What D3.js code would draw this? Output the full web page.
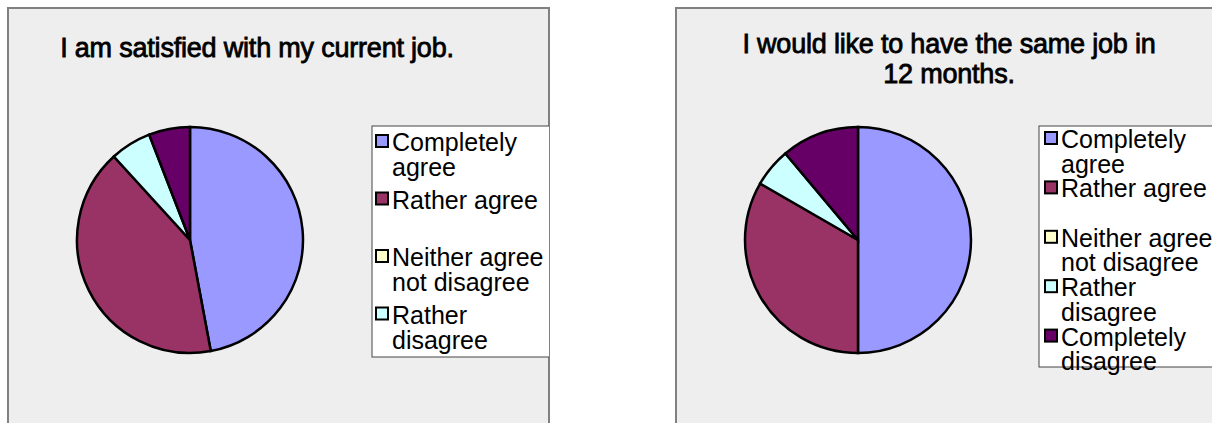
<!DOCTYPE html>
<html lang="en">
<meta charset="utf-8">
<style type="text/css">
  body { margin: 0; background: #fff; }
  svg { display: block; }
  .panel { fill: #eeeeee; stroke: #808080; stroke-width: 2px; }
  .title { font-family: "Liberation Sans", Arial, sans-serif; font-size: 27px; letter-spacing: -0.2px; fill: #000; stroke: #000; stroke-width: 0.8px; }
  .slice { stroke: #000; stroke-width: 2.5px; }
  .legend-box { fill: #fff; stroke: #444; stroke-width: 1px; }
  .legend-text { font-family: "Liberation Sans", Arial, sans-serif; font-size: 25px; fill: #000; }
  .swatch { stroke: #000; stroke-width: 2px; }
</style>
<body>
<script src="https://d3js.org/d3.v7.min.js"></script>
<script>
// answer categories, in the order Excel plots them
var categories = ["Completely agree", "Rather agree", "Neither agree not disagree", "Rather disagree", "Completely disagree"];
var legendLines = [["Completely", "agree"], ["Rather agree"], ["Neither agree", "not disagree"], ["Rather", "disagree"], ["Completely", "disagree"]];
var sliceColors = ["#9999ff", "#993366", "#ffffcc", "#ccffff", "#660066"];

// answers counted per category
var satisfiedValues = [8, 7, 0, 1, 1];
var sameJobValues = [9, 6, 0, 1, 2];

var satisfiedTitle = ["I am satisfied with my current job."];
var sameJobTitle = ["I would like to have the same job in", "12 months."];

var width = 1212, height = 423;

var svg = d3.select("body").append("svg")
    .attr("width", width)
    .attr("height", height);

var color = d3.scaleOrdinal().domain(categories).range(sliceColors);

var charts = [
  { id: "satisfied", values: satisfiedValues, title: satisfiedTitle,
    panel: {x: 8, y: 8, w: 541, h: 430},
    titleX: 257, titleY: 57, titleStep: 30,
    cx: 190, cy: 240, r: 113,
    legend: {x: 372, y: 126, w: 200, h: 231, sw: 4, tx: 20, first: 151, slot: 57.5, lh: 25} },
  { id: "samejob", values: sameJobValues, title: sameJobTitle,
    panel: {x: 676, y: 8, w: 560, h: 430},
    titleX: 949, titleY: 53, titleStep: 30,
    cx: 858, cy: 240, r: 113,
    legend: {x: 1039, y: 126, w: 200, h: 241, sw: 6, tx: 22, first: 148, slot: 49.4, lh: 24.7} }
];

var pie = d3.pie().sort(null).value(function (d) { return d.value; });

charts.forEach(function (c) {
    var data = categories.map(function (k, i) { return {key: k, value: c.values[i], lines: legendLines[i]}; });

    svg.append("clipPath").attr("id", "clip-" + c.id)
      .append("rect")
        .attr("x", c.panel.x).attr("y", c.panel.y)
        .attr("width", c.panel.w).attr("height", c.panel.h);

    var g = svg.append("g");

    g.append("rect")
        .attr("class", "panel")
        .attr("x", c.panel.x).attr("y", c.panel.y)
        .attr("width", c.panel.w).attr("height", c.panel.h);

    g.selectAll(".title-line." + c.id)
        .data(c.title)
      .enter().append("text")
        .attr("class", "title")
        .attr("text-anchor", "middle")
        .attr("x", c.titleX)
        .attr("y", function (d, i) { return c.titleY + i * c.titleStep; })
        .text(function (d) { return d; });

    var arc = d3.arc().innerRadius(0).outerRadius(c.r);

    g.append("g")
        .attr("transform", "translate(" + c.cx + "," + c.cy + ")")
      .selectAll("path")
        .data(pie(data).filter(function (d) { return d.data.value > 0; }))
      .enter().append("path")
        .attr("class", "slice")
        .attr("d", arc)
        .attr("fill", function (d) { return color(d.data.key); });

    // legend, clipped by the chart area like in the original
    var L = c.legend;
    var lg = g.append("g").attr("clip-path", "url(#clip-" + c.id + ")");
    lg.append("rect")
        .attr("class", "legend-box")
        .attr("x", L.x).attr("y", L.y)
        .attr("width", L.w).attr("height", L.h);

    var shown = data.filter(function (d, i) { return L.first + i * L.slot < L.y + L.h; });

    var item = lg.selectAll(".item")
        .data(shown)
      .enter().append("g")
        .attr("transform", function (d, i) { return "translate(0," + (L.first + i * L.slot) + ")"; });

    item.append("rect")
        .attr("class", "swatch")
        .attr("x", L.x + L.sw).attr("y", -16)
        .attr("width", 12).attr("height", 12)
        .attr("fill", function (d) { return color(d.key); });

    item.selectAll("text")
        .data(function (d) { return d.lines; })
      .enter().append("text")
        .attr("class", "legend-text")
        .attr("x", L.x + L.tx)
        .attr("y", function (d, j) { return j * L.lh; })
        .text(function (d) { return d; });
});
</script>
</body>
</html>
